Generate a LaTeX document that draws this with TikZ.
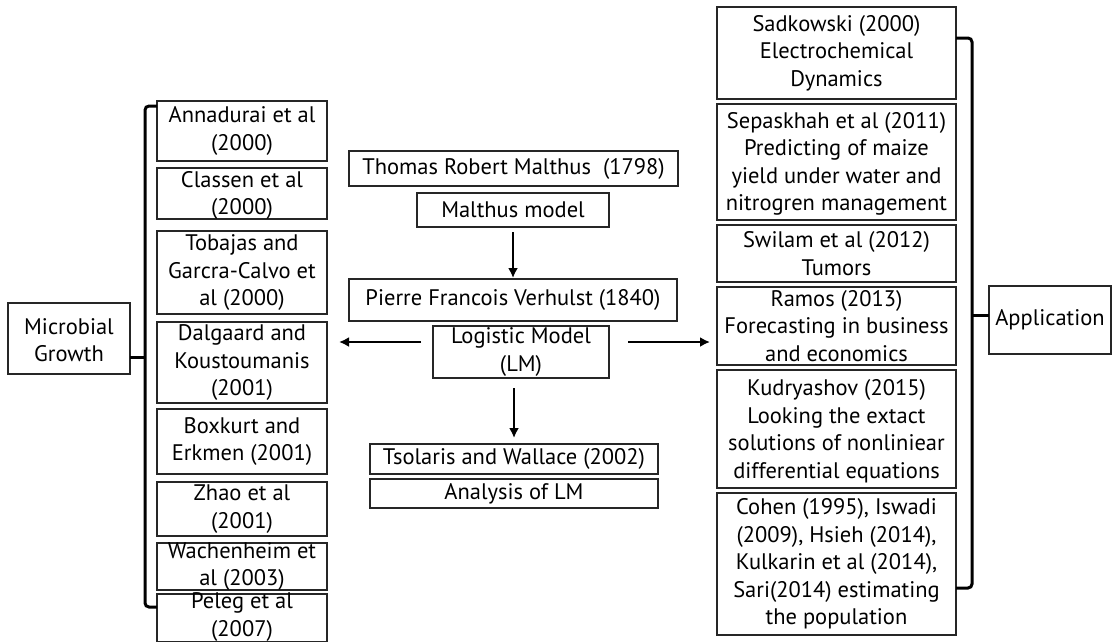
\documentclass[tikz,border=0pt]{standalone}
\usepackage{fontspec}
\setmainfont{PT Sans}
\usetikzlibrary{arrows.meta}
\tikzset{
  box/.style={draw=black!85, line width=1.4pt, inner sep=0pt, outer sep=0pt},
  lbl/.style={align=center, inner sep=0pt},
  arr/.style={line width=2.8pt, -{Latex[length=10pt,width=10pt]}},
  brk/.style={line width=3pt, rounded corners=4pt},
}
\begin{document}
\begin{tikzpicture}[x=1pt,y=-1pt,font=\fontsize{22.5}{27.5}\selectfont]
\useasboundingbox (0,0) rectangle (1113,641);
% left column
\node[box, minimum width=170pt, minimum height=60pt, label={[lbl]center:{Annadurai et al\\(2000)}}] (annad) at (242,131) {};
\node[box, minimum width=170pt, minimum height=51pt, label={[lbl,yshift=-2pt]center:{Classen et al\\(2000)}}] (classen) at (242,193.5) {};
\node[box, minimum width=170pt, minimum height=83pt, label={[lbl]center:{Tobajas and\\Garcra-Calvo et\\al (2000)}}] (tobajas) at (242,272.5) {};
\node[box, minimum width=170pt, minimum height=81pt, label={[lbl]center:{Dalgaard and\\Koustoumanis\\(2001)}}] (dalg) at (242,362.5) {};
\node[box, minimum width=170pt, minimum height=65pt, label={[lbl]center:{Boxkurt and\\Erkmen (2001)}}] (boxk) at (242,441.5) {};
\node[box, minimum width=170pt, minimum height=54pt, label={[lbl]center:{Zhao et al\\(2001)}}] (zhao) at (242,509) {};
\node[box, minimum width=170pt, minimum height=47pt, label={[lbl]center:{Wachenheim et\\al (2003)}}] (wach) at (242,566.5) {};
\node[box, minimum width=170pt, minimum height=48pt, label={[lbl,yshift=1pt]center:{Peleg et al\\(2007)}}] (peleg) at (242,618) {};
\node[box, minimum width=122pt, minimum height=71pt, label={[lbl,yshift=-1.5pt]center:{Microbial\\Growth}}] (micro) at (69,338.5) {};
% middle column
\node[box, minimum width=329pt, minimum height=35pt, label={[lbl]center:{Thomas Robert Malthus~~(1798)}}] (thomas) at (513.5,168.5) {};
\node[box, minimum width=192pt, minimum height=34pt, label={[lbl]center:{Malthus model}}] (malthus) at (513,210) {};
\node[box, minimum width=328pt, minimum height=42pt, label={[lbl]center:{Pierre Francois Verhulst (1840)}}] (pierre) at (513,300) {};
\node[box, minimum width=176pt, minimum height=52pt, label={[lbl]center:{Logistic Model\\(LM)}}] (logistic) at (521,352) {};
\node[box, minimum width=288pt, minimum height=30pt, label={[lbl]center:{Tsolaris and Wallace (2002)}}] (tsolaris) at (514,459) {};
\node[box, minimum width=288pt, minimum height=29pt, label={[lbl]center:{Analysis of LM}}] (analysis) at (514,493.5) {};
% right column
\node[box, minimum width=239pt, minimum height=92pt, label={[lbl]center:{Sadkowski (2000)\\Electrochemical\\Dynamics}}] (sadk) at (836.5,53) {};
\node[box, minimum width=239pt, minimum height=116pt, label={[lbl,yshift=-2pt]center:{Sepaskhah et al (2011)\\Predicting of maize\\yield under water and\\nitrogren management}}] (sepa) at (836.5,162) {};
\node[box, minimum width=239pt, minimum height=57pt, label={[lbl]center:{Swilam et al (2012)\\Tumors}}] (swilam) at (836.5,253.5) {};
\node[box, minimum width=239pt, minimum height=78pt, label={[lbl]center:{Ramos (2013)\\Forecasting in business\\and economics}}] (ramos) at (836.5,326) {};
\node[box, minimum width=239pt, minimum height=118pt, label={[lbl,yshift=-2pt]center:{Kudryashov (2015)\\Looking the extact\\solutions of nonliniear\\differential equations}}] (kudr) at (836.5,429) {};
\node[box, minimum width=239pt, minimum height=142pt, label={[lbl]center:{Cohen (1995), Iswadi\\(2009), Hsieh (2014),\\Kulkarin et al (2014),\\Sari(2014) estimating\\the population}}] (cohen) at (836.5,564) {};
\node[box, minimum width=122pt, minimum height=68pt, label={[lbl]center:{Application}}] (app) at (1050,320) {};
% arrows
\draw[arr, shorten <=5pt, shorten >=1pt] (malthus.south) -- (malthus.south |- pierre.north);
\draw[arr, shorten <=10pt, shorten >=6pt] (logistic.south -| tsolaris.north) -- (tsolaris.north);
\draw[arr, shorten <=12pt, shorten >=12pt] ([yshift=10pt]logistic.west) -- ([yshift=10pt]logistic.west -| dalg.east);
\draw[arr, shorten <=19pt, shorten >=7pt] ([yshift=10pt]logistic.east) -- ([yshift=10pt]logistic.east -| ramos.west);
% brackets
\coordinate (lt) at (145,106);
\coordinate (lb) at (145,607);
\coordinate (lm) at (145,357);
\draw[brk] (lt -| annad.west) -- (lt) -- (lb) -- (lb -| peleg.west);
\draw[brk] (lm) -- (lm -| micro.east);
\coordinate (rt) at (972,38);
\coordinate (rb) at (972,588);
\coordinate (rm) at (972,315);
\draw[brk] (rt -| sadk.east) -- (rt) -- (rb) -- (rb -| cohen.east);
\draw[brk] (rm) -- (rm -| app.west);
\end{tikzpicture}
\end{document}
